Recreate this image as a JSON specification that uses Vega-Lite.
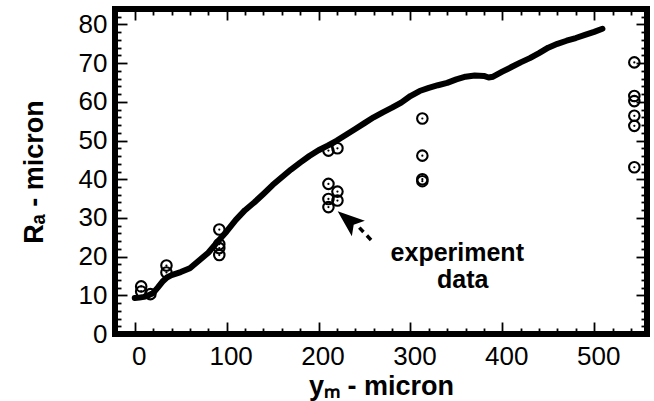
{
  "$schema": "https://vega.github.io/schema/vega-lite/v6.json",
  "width": 532,
  "height": 325,
  "autosize": {"type": "none"},
  "padding": {"left": 115, "top": 9, "right": 7, "bottom": 67},
  "background": "white",
  "view": {"stroke": "black", "strokeWidth": 6},
  "config": {
    "font": "Liberation Sans",
    "axis": {
      "domain": false,
      "grid": false,
      "tickColor": "black",
      "tickWidth": 1.8,
      "labelColor": "black",
      "titleColor": "black",
      "labelFont": "Liberation Sans",
      "titleFont": "Liberation Sans",
      "labelFontSize": 26,
      "titleFontSize": 27,
      "titleFontWeight": "bold"
    }
  },
  "datasets": {
    "curve": [
      {"x": 0, "y": 9.3}, {"x": 5, "y": 9.4}, {"x": 10, "y": 9.6}, {"x": 15, "y": 10.0},
      {"x": 20, "y": 10.6}, {"x": 25, "y": 12.0}, {"x": 30, "y": 13.5}, {"x": 35, "y": 14.6},
      {"x": 40, "y": 15.2}, {"x": 50, "y": 16.0}, {"x": 60, "y": 17.0}, {"x": 70, "y": 19.0},
      {"x": 80, "y": 21.0}, {"x": 90, "y": 23.8}, {"x": 100, "y": 26.5}, {"x": 110, "y": 29.5},
      {"x": 120, "y": 32.0}, {"x": 130, "y": 34.0}, {"x": 140, "y": 36.2}, {"x": 150, "y": 38.5},
      {"x": 160, "y": 40.5}, {"x": 170, "y": 42.5}, {"x": 180, "y": 44.3}, {"x": 190, "y": 46.0},
      {"x": 200, "y": 47.5}, {"x": 210, "y": 48.7}, {"x": 220, "y": 50.0}, {"x": 230, "y": 51.5},
      {"x": 240, "y": 53.0}, {"x": 250, "y": 54.5}, {"x": 260, "y": 56.0}, {"x": 270, "y": 57.3},
      {"x": 280, "y": 58.5}, {"x": 290, "y": 59.8}, {"x": 300, "y": 61.5}, {"x": 310, "y": 62.8},
      {"x": 320, "y": 63.6}, {"x": 330, "y": 64.3}, {"x": 340, "y": 64.9}, {"x": 350, "y": 65.8},
      {"x": 360, "y": 66.5}, {"x": 370, "y": 66.8}, {"x": 380, "y": 66.7}, {"x": 385, "y": 66.3},
      {"x": 390, "y": 66.5}, {"x": 400, "y": 67.8}, {"x": 410, "y": 69.0}, {"x": 420, "y": 70.2},
      {"x": 430, "y": 71.3}, {"x": 440, "y": 72.6}, {"x": 450, "y": 74.0}, {"x": 460, "y": 75.0},
      {"x": 470, "y": 75.8}, {"x": 480, "y": 76.5}, {"x": 490, "y": 77.3}, {"x": 500, "y": 78.1},
      {"x": 509, "y": 78.9}
    ],
    "exp": [
      {"x": 7, "y": 12.3}, {"x": 7, "y": 11.0}, {"x": 17, "y": 10.3},
      {"x": 34.5, "y": 17.7}, {"x": 34.5, "y": 15.9},
      {"x": 92, "y": 27.0}, {"x": 92, "y": 23.2}, {"x": 92, "y": 22.2}, {"x": 92, "y": 20.4},
      {"x": 210.8, "y": 47.4}, {"x": 220.6, "y": 48.0}, {"x": 210.8, "y": 38.8}, {"x": 220.6, "y": 36.8},
      {"x": 210.8, "y": 34.9}, {"x": 220.6, "y": 34.5}, {"x": 210.8, "y": 32.8},
      {"x": 313, "y": 55.7}, {"x": 313, "y": 46.1}, {"x": 313, "y": 40.0}, {"x": 313, "y": 39.5},
      {"x": 543.7, "y": 70.2}, {"x": 543.7, "y": 61.5}, {"x": 543.7, "y": 60.2}, {"x": 543.7, "y": 56.4},
      {"x": 543.7, "y": 53.8}, {"x": 543.7, "y": 43.1}
    ],
    "notes": [
      {"x": 351, "y": 18.9, "label": "experiment"},
      {"x": 357, "y": 11.9, "label": "data"}
    ],
    "head": [{"x": 232.1, "y": 29.5}],
    "dash": [{"x": 244.4, "y": 27.5, "x2": 260, "y2": 23.6}]
  },
  "layer": [
    {
      "data": {"name": "curve"},
      "mark": {"type": "line", "color": "black", "strokeWidth": 6, "strokeJoin": "round", "strokeCap": "round"},
      "encoding": {
        "x": {"field": "x", "type": "quantitative",
              "scale": {"domain": [-21.5, 557.5], "nice": false, "zero": false},
              "axis": {"orient": "bottom", "values": [0, 100, 200, 300, 400, 500], "tickSize": -12,
                       "labelPadding": 21, "labelOffset": 4, "labelFlush": false, "title": "yₘ - micron", "titlePadding": 4}},
        "y": {"field": "y", "type": "quantitative",
              "scale": {"domain": [0, 84], "nice": false, "zero": false},
              "axis": {"orient": "left", "values": [0, 10, 20, 30, 40, 50, 60, 70, 80], "tickSize": -12,
                       "labelPadding": 20, "labelFlush": false, "title": "Rₐ - micron", "titlePadding": 30}}
      }
    },
    {
      "data": {"name": "exp"},
      "mark": {"type": "point", "shape": "circle", "filled": false, "stroke": "black", "strokeWidth": 2.1, "size": 110, "opacity": 1},
      "encoding": {
        "x": {"field": "x", "type": "quantitative",
              "axis": {"orient": "bottom", "values": [-20, 20, 40, 60, 80, 120, 140, 160, 180, 220, 240, 260, 280, 320, 340, 360, 380, 420, 440, 460, 480, 520, 540],
                       "tickSize": -6, "labels": false, "title": null}},
        "y": {"field": "y", "type": "quantitative",
              "axis": {"orient": "left", "values": [2, 4, 6, 8, 12, 14, 16, 18, 22, 24, 26, 28, 32, 34, 36, 38, 42, 44, 46, 48, 52, 54, 56, 58, 62, 64, 66, 68, 72, 74, 76, 78, 82],
                       "tickSize": -6, "labels": false, "title": null}}
      }
    },
    {
      "data": {"name": "exp"},
      "mark": {"type": "point", "shape": "circle", "filled": true, "color": "black", "size": 5, "opacity": 1},
      "encoding": {
        "x": {"field": "x", "type": "quantitative",
              "axis": {"orient": "top", "values": [0, 100, 200, 300, 400, 500], "tickSize": -11, "labels": false, "title": null}},
        "y": {"field": "y", "type": "quantitative",
              "axis": {"orient": "right", "values": [0, 10, 20, 30, 40, 50, 60, 70, 80], "tickSize": -11, "labels": false, "title": null}}
      }
    },
    {
      "data": {"name": "head"},
      "mark": {"type": "point", "shape": "M0,-1L0.75,1L0,0.55L-0.75,1Z", "filled": true, "color": "black", "size": 729, "angle": 310, "opacity": 1},
      "encoding": {
        "x": {"field": "x", "type": "quantitative",
              "axis": {"orient": "top", "values": [-20, 20, 40, 60, 80, 120, 140, 160, 180, 220, 240, 260, 280, 320, 340, 360, 380, 420, 440, 460, 480, 520, 540],
                       "tickSize": -6, "labels": false, "title": null}},
        "y": {"field": "y", "type": "quantitative",
              "axis": {"orient": "right", "values": [2, 4, 6, 8, 12, 14, 16, 18, 22, 24, 26, 28, 32, 34, 36, 38, 42, 44, 46, 48, 52, 54, 56, 58, 62, 64, 66, 68, 72, 74, 76, 78, 82],
                       "tickSize": -6, "labels": false, "title": null}}
      }
    },
    {
      "data": {"name": "dash"},
      "mark": {"type": "rule", "color": "black", "strokeWidth": 3.5, "strokeDash": [6, 5]},
      "encoding": {
        "x": {"field": "x", "type": "quantitative", "axis": null},
        "y": {"field": "y", "type": "quantitative", "axis": null},
        "x2": {"field": "x2"},
        "y2": {"field": "y2"}
      }
    },
    {
      "data": {"name": "notes"},
      "mark": {"type": "text", "font": "Liberation Sans", "fontWeight": "bold", "fontSize": 25, "align": "center", "baseline": "alphabetic", "color": "black"},
      "encoding": {
        "x": {"field": "x", "type": "quantitative", "axis": null},
        "y": {"field": "y", "type": "quantitative", "axis": null},
        "text": {"field": "label"}
      }
    }
  ],
  "resolve": {"axis": {"x": "independent", "y": "independent"}}
}
